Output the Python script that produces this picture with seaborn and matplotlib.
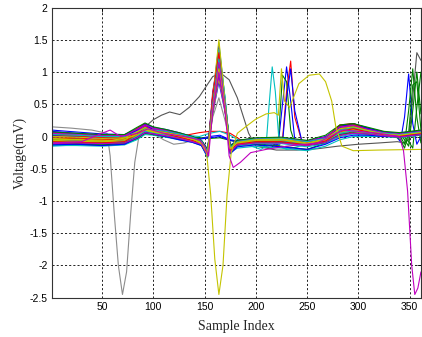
import pandas as pd
import matplotlib
matplotlib.use('Agg')
import matplotlib.pyplot as plt
import seaborn as sns

# MATLAB-style line colours
B, G, R, C, M, Y = '#0000ff', '#008000', '#ff0000', '#00bfbf', '#bf00bf', '#c4c400'
K_LIGHT, K_DARK = '#8c8c8c', '#555555'

# sample positions of the normal beats (R peak near sample 164)
x_normal = [1, 25, 50, 72, 84, 92, 100, 112, 125, 138, 147, 153, 158, 164,
            170, 175, 182, 200, 225, 250, 268, 282, 295, 310, 325, 340, 350, 361]

normal_beats = [
    [0.08, 0.05, 0.02, 0.02, 0.10, 0.17, 0.12, 0.10, 0.05, -0.02, -0.08, -0.25, 0.62, 1.35, 0.55, -0.18, -0.08, -0.04, -0.03, -0.08, -0.02, 0.08, 0.12, 0.08, 0.06, 0.04, 0.06, 0.08],
    [-0.10, -0.10, -0.12, -0.10, 0.00, 0.08, 0.05, 0.02, -0.03, -0.07, -0.12, -0.30, 0.45, 1.10, 0.48, -0.22, -0.14, -0.12, -0.15, -0.20, -0.10, 0.12, 0.16, 0.08, 0.02, 0.00, 0.02, 0.04],
    [-0.02, -0.04, -0.06, -0.04, 0.06, 0.18, 0.09, 0.06, 0.01, -0.05, -0.10, -0.27, 0.70, 1.20, 0.40, -0.20, -0.10, -0.06, -0.05, -0.10, -0.05, 0.15, 0.18, 0.08, 0.03, 0.01, 0.03, 0.05],
    [-0.15, -0.13, -0.14, -0.12, -0.04, 0.05, 0.03, 0.00, -0.04, -0.08, -0.13, -0.32, 0.50, 1.40, 0.60, -0.25, -0.18, -0.15, -0.18, -0.22, -0.15, -0.05, 0.00, 0.00, 0.00, -0.01, 0.01, 0.03],
    [0.05, 0.02, -0.01, 0.00, 0.08, 0.12, 0.11, 0.08, 0.03, -0.03, -0.09, -0.22, 0.40, 1.00, 0.50, -0.16, -0.07, -0.05, -0.04, -0.09, -0.03, 0.05, 0.08, 0.11, 0.05, 0.03, 0.05, 0.07],
    [-0.06, -0.07, -0.09, -0.07, 0.02, 0.10, 0.07, 0.03, -0.01, -0.06, -0.11, -0.29, 0.55, 1.25, 0.45, -0.21, -0.11, -0.07, -0.06, -0.12, -0.06, 0.07, 0.10, 0.07, 0.02, 0.00, 0.02, 0.05],
    [0.10, 0.07, 0.04, 0.03, 0.12, 0.20, 0.14, 0.11, 0.06, 0.00, -0.06, -0.20, 0.35, 0.85, 0.38, -0.14, -0.06, -0.03, -0.02, -0.07, 0.00, 0.12, 0.10, 0.12, 0.07, 0.05, 0.07, 0.09],
    [-0.12, -0.11, -0.10, -0.09, -0.01, 0.07, 0.04, 0.01, -0.03, -0.07, -0.12, -0.31, 0.58, 1.30, 0.52, -0.24, -0.13, -0.09, -0.08, -0.13, -0.09, 0.16, 0.20, 0.10, 0.01, -0.01, 0.01, 0.03],
    [0.00, -0.02, -0.05, -0.03, 0.12, 0.20, 0.08, 0.06, 0.02, -0.04, -0.10, -0.26, 0.45, 1.15, 0.45, -0.19, -0.09, -0.05, -0.05, -0.11, -0.04, 0.11, 0.13, 0.09, 0.04, 0.02, 0.04, 0.06],
    [-0.14, -0.14, -0.15, -0.13, -0.05, 0.03, 0.02, -0.01, -0.05, -0.09, -0.14, -0.33, 0.52, 1.45, 0.58, -0.26, -0.15, -0.11, -0.11, -0.16, -0.11, 0.00, 0.04, 0.02, 0.00, -0.02, 0.00, 0.02],
    [0.06, 0.03, 0.01, 0.01, 0.09, 0.16, 0.12, 0.09, 0.04, -0.02, -0.08, -0.24, 0.60, 1.25, 0.45, -0.17, -0.08, -0.04, -0.03, -0.08, -0.02, 0.13, 0.17, 0.10, 0.05, 0.03, 0.05, 0.07],
    [-0.08, -0.08, -0.08, -0.07, 0.01, 0.09, 0.06, 0.03, -0.02, -0.06, -0.11, -0.28, 0.35, 0.90, 0.40, -0.22, -0.11, -0.07, -0.07, -0.12, -0.07, 0.06, 0.09, 0.06, 0.02, 0.00, 0.02, 0.04],
    [0.02, 0.00, -0.03, -0.01, 0.10, 0.19, 0.10, 0.07, 0.02, -0.04, -0.09, -0.23, 0.65, 1.40, 0.50, -0.18, -0.09, -0.05, -0.04, -0.09, -0.03, 0.15, 0.20, 0.12, 0.05, 0.02, 0.04, 0.06],
    [-0.11, -0.12, -0.13, -0.11, -0.03, 0.05, 0.03, 0.00, -0.04, -0.08, -0.13, -0.30, 0.48, 1.20, 0.52, -0.24, -0.13, -0.09, -0.09, -0.14, -0.09, 0.03, 0.06, 0.04, 0.01, -0.01, 0.01, 0.03],
    [0.03, 0.01, -0.02, -0.02, 0.05, 0.12, 0.09, 0.07, 0.02, -0.04, -0.10, -0.27, 0.50, 1.10, 0.42, -0.20, -0.10, -0.05, -0.04, -0.10, -0.04, 0.18, 0.20, 0.09, 0.04, 0.02, 0.04, 0.06],
    [-0.09, -0.09, -0.11, -0.08, 0.00, 0.08, 0.05, 0.02, -0.02, -0.07, -0.12, -0.29, 0.55, 1.35, 0.60, -0.23, -0.12, -0.08, -0.07, -0.12, -0.07, 0.05, 0.09, 0.06, 0.02, 0.00, 0.02, 0.04],
    [0.06, 0.04, 0.02, 0.02, 0.11, 0.18, 0.13, 0.10, 0.05, -0.01, -0.07, -0.22, 0.40, 0.95, 0.42, -0.16, -0.07, -0.03, -0.02, -0.07, -0.01, 0.15, 0.17, 0.11, 0.06, 0.04, 0.06, 0.08],
    [-0.04, -0.05, -0.07, -0.05, 0.04, 0.12, 0.08, 0.05, 0.00, -0.05, -0.10, -0.26, 0.60, 1.50, 0.55, -0.20, -0.10, -0.06, -0.05, -0.11, -0.05, 0.09, 0.11, 0.08, 0.03, 0.01, 0.03, 0.05],
    [-0.13, -0.12, -0.14, -0.12, -0.02, 0.06, 0.04, 0.00, -0.05, -0.09, -0.14, -0.31, 0.40, 1.00, 0.45, -0.27, -0.16, -0.13, -0.16, -0.20, -0.12, -0.02, 0.02, 0.02, 0.00, 0.00, 0.02, 0.04],
    [0.07, 0.05, 0.03, 0.03, 0.14, 0.21, 0.15, 0.11, 0.06, 0.00, -0.06, -0.21, 0.50, 1.10, 0.48, -0.15, -0.06, -0.02, -0.01, -0.06, 0.02, 0.18, 0.20, 0.14, 0.08, 0.06, 0.08, 0.10],
    [-0.08, -0.09, -0.10, -0.08, 0.03, 0.14, 0.10, 0.04, -0.01, -0.06, -0.11, -0.28, 0.62, 1.30, 0.42, -0.22, -0.12, -0.08, -0.08, -0.13, -0.07, 0.08, 0.12, 0.07, 0.03, 0.01, 0.03, 0.05],
    [0.03, 0.02, 0.00, 0.00, 0.07, 0.13, 0.10, 0.08, 0.04, -0.01, -0.07, -0.23, 0.50, 1.20, 0.50, -0.17, -0.08, -0.04, -0.03, -0.08, -0.03, 0.10, 0.14, 0.09, 0.05, 0.03, 0.05, 0.07],
    [-0.11, -0.10, -0.11, -0.10, -0.02, 0.06, 0.04, 0.01, -0.03, -0.08, -0.12, -0.30, 0.45, 1.15, 0.50, -0.24, -0.13, -0.10, -0.10, -0.14, -0.09, 0.02, 0.05, 0.04, 0.01, -0.01, 0.01, 0.03],
    [0.00, -0.01, -0.03, -0.02, 0.07, 0.14, 0.09, 0.06, 0.02, -0.04, -0.09, -0.25, 0.42, 1.05, 0.45, -0.19, -0.09, -0.05, -0.04, -0.10, -0.04, 0.12, 0.15, 0.09, 0.04, 0.02, 0.04, 0.06],
]
normal_colors = [B, G, R, C, M, Y] * 4

# normal beats followed by an early next beat at the right edge
x_next = [1, 25, 50, 72, 84, 92, 100, 112, 125, 138, 147, 153, 158, 164, 170, 175,
          182, 200, 225, 250, 268, 282, 295, 310, 325, 336, 341, 345, 349, 353, 357, 361]
next_beats = [
    [-0.06, -0.07, -0.08, -0.06, 0.03, 0.11, 0.07, 0.04, -0.01, -0.06, -0.11, -0.28, 0.50, 1.15, 0.50, -0.21, -0.11, -0.07, -0.06, -0.11, -0.06, 0.08, 0.10, 0.07, 0.03, 0.02, -0.08, 0.30, 0.97, 0.20, -0.12, 0.00],
    [0.02, 0.00, -0.02, -0.01, 0.08, 0.15, 0.10, 0.07, 0.03, -0.03, -0.09, -0.24, 0.55, 1.25, 0.50, -0.17, -0.09, -0.05, -0.04, -0.09, -0.02, 0.14, 0.18, 0.12, 0.06, 0.03, 0.00, -0.12, 0.40, 1.05, 0.30, -0.10],
    [-0.07, -0.08, -0.10, -0.07, 0.02, 0.10, 0.06, 0.03, -0.02, -0.06, -0.12, -0.30, 0.45, 1.05, 0.45, -0.22, -0.12, -0.08, -0.07, -0.12, -0.07, 0.10, 0.15, 0.10, 0.04, 0.01, 0.02, -0.05, -0.15, 0.40, 1.00, 0.35],
    [0.04, 0.02, 0.00, 0.00, 0.09, 0.17, 0.12, 0.08, 0.03, -0.03, -0.08, -0.23, 0.60, 1.30, 0.55, -0.17, -0.08, -0.04, -0.03, -0.08, -0.01, 0.17, 0.20, 0.13, 0.07, 0.04, 0.03, 0.00, -0.08, -0.18, 0.45, 1.00],
    [-0.03, -0.04, -0.06, -0.04, 0.06, 0.14, 0.09, 0.05, 0.00, -0.05, -0.10, -0.27, 0.50, 1.18, 0.50, -0.20, -0.10, -0.06, -0.05, -0.10, -0.04, 0.12, 0.16, 0.10, 0.04, 0.00, -0.05, -0.18, 0.05, 0.80, 0.85, 0.10],
]
next_colors = [B, G, G, G, G]

# beats whose R peak sits near sample 230
x_late = [1, 30, 60, 80, 92, 105, 125, 145, 155, 165, 175, 185, 200,
          215, 222, 226, 230, 234, 238, 245, 262, 280, 295, 315, 340, 361]
late_beats = [
    [-0.06, -0.08, -0.08, -0.03, 0.10, 0.06, 0.02, -0.03, 0.00, 0.02, -0.05, -0.08, -0.08, -0.12, -0.10, 0.50, 1.08, 0.55, -0.05, -0.10, -0.12, 0.02, 0.10, 0.06, 0.03, 0.05],
    [-0.10, -0.12, -0.10, -0.05, 0.05, 0.04, 0.00, 0.06, 0.08, 0.08, 0.05, -0.05, -0.07, -0.10, -0.15, -0.05, 0.70, 1.17, 0.30, -0.08, -0.10, 0.00, 0.08, 0.05, 0.02, 0.04],
    [-0.04, -0.05, -0.06, 0.00, 0.12, 0.08, 0.03, -0.02, -0.03, -0.02, -0.06, -0.10, -0.12, -0.18, -0.05, 0.95, 0.85, 0.10, -0.10, -0.12, -0.08, 0.08, 0.15, 0.08, 0.04, 0.06],
    [-0.08, -0.09, -0.10, -0.06, 0.06, 0.03, 0.00, -0.04, -0.02, 0.00, -0.06, -0.09, -0.10, -0.14, -0.12, -0.10, 0.60, 1.05, 0.40, -0.08, -0.12, 0.05, 0.12, 0.07, 0.03, 0.04],
]
late_colors = [B, R, G, B]

x_cyan = [1, 30, 60, 80, 92, 105, 125, 145, 155, 165, 175, 190, 205,
          210, 213, 216, 219, 223, 230, 250, 270, 285, 300, 320, 340, 361]
y_cyan = [-0.02, -0.04, -0.05, 0.00, 0.10, 0.07, 0.03, 0.00, 0.05, 0.08, 0.02, -0.12, -0.20,
          -0.15, 0.50, 1.08, 0.70, -0.15, -0.20, -0.12, -0.08, 0.05, 0.12, 0.08, 0.04, 0.05]

x_gray_dip = [1, 20, 40, 55, 58, 62, 66, 70, 74, 78, 82, 86, 92, 100, 110, 120,
              130, 140, 148, 153, 158, 164, 170, 176, 185, 200, 230, 260, 290, 320, 345, 361]
y_gray_dip = [0.15, 0.13, 0.10, 0.05, -0.30, -1.20, -2.00, -2.45, -2.10, -1.20, -0.40, 0.00,
              0.15, 0.05, -0.05, -0.12, -0.10, -0.05, -0.08, -0.20, 0.30, 0.60, 0.25, -0.15,
              -0.08, -0.05, -0.05, -0.10, 0.05, 0.02, 0.00, 0.02]

x_gray_hump = [1, 30, 60, 80, 90, 100, 108, 116, 126, 135, 145, 158, 166, 174, 182, 188,
               193, 200, 220, 240, 260, 280, 300, 320, 338, 345, 349, 353, 357, 361]
y_gray_hump = [-0.05, -0.06, -0.05, 0.00, 0.12, 0.26, 0.33, 0.38, 0.34, 0.45, 0.62, 0.93,
               0.98, 0.88, 0.60, 0.30, 0.05, -0.15, -0.21, -0.21, -0.19, -0.15, -0.12,
               -0.10, -0.08, -0.10, -0.05, 0.60, 1.30, 1.18]

x_yellow = [1, 30, 60, 80, 92, 105, 125, 140, 148, 152, 156, 160, 164, 168, 172, 176,
            182, 190, 200, 210, 218, 222, 225, 228, 233, 242, 252, 262, 268, 274, 278,
            284, 295, 320, 361]
y_yellow = [-0.03, -0.05, -0.06, 0.00, 0.10, 0.06, 0.02, -0.05, -0.12, -0.25, -0.90, -1.90,
            -2.45, -2.00, -0.90, -0.25, 0.05, 0.15, 0.27, 0.35, 0.37, 0.33, 1.05, 0.55,
            0.45, 0.82, 0.95, 0.97, 0.85, 0.55, 0.15, -0.15, -0.22, -0.21, -0.20]

x_magenta = [1, 30, 50, 58, 68, 85, 95, 110, 130, 145, 150, 154, 158, 164, 170, 174, 178,
             185, 195, 210, 230, 260, 285, 300, 320, 340, 344, 348, 352, 355, 358, 361]
y_magenta = [-0.10, -0.08, 0.05, 0.10, 0.00, 0.05, 0.12, 0.05, 0.00, -0.05, -0.15, -0.30,
             0.40, 1.00, 0.40, -0.30, -0.48, -0.40, -0.25, -0.20, -0.15, -0.10, 0.10, 0.08,
             0.05, 0.00, -0.22, -0.85, -2.00, -2.45, -2.35, -2.10]

# long-form table, one trace id per beat
rows = []
colors = {}
def add(name, xs, ys, col):
    for a, b in zip(xs, ys):
        rows.append((name, a, b))
    colors[name] = col

add('gray_dip', x_gray_dip, y_gray_dip, K_LIGHT)
add('gray_hump', x_gray_hump, y_gray_hump, K_DARK)
for i, ys in enumerate(late_beats):
    add(f'late{i}', x_late, ys, late_colors[i])
add('cyan', x_cyan, y_cyan, C)
for i, ys in enumerate(next_beats):
    add(f'next{i}', x_next, ys, next_colors[i])
for i, ys in enumerate(normal_beats):
    add(f'normal{i}', x_normal, ys, normal_colors[i])
add('yellow', x_yellow, y_yellow, Y)
add('magenta', x_magenta, y_magenta, M)
df = pd.DataFrame(rows, columns=['trace', 'sample', 'voltage'])

sns.set_style('white')
plt.rcParams['font.family'] = ['Liberation Sans', 'DejaVu Sans']
plt.rcParams['axes.unicode_minus'] = False

fig = plt.figure(figsize=(4.22, 3.37), dpi=100)
ax = fig.add_axes([0.1225, 0.1166, 0.875, 0.861])

sns.lineplot(data=df, x='sample', y='voltage', hue='trace', units='trace',
             estimator=None, sort=False, palette=colors, legend=False,
             linewidth=0.8, ax=ax)

ax.set_xlim(1, 361)
ax.set_ylim(-2.5, 2)
ax.set_xticks([50, 100, 150, 200, 250, 300, 350])
ax.set_yticks([-2.5, -2, -1.5, -1, -0.5, 0, 0.5, 1, 1.5, 2])
ax.set_yticklabels(['-2.5', '-2', '-1.5', '-1', '-0.5', '0', '0.5', '1', '1.5', '2'])
ax.set_axisbelow(True)
ax.grid(True, color='black', linestyle=(0, (2.5, 2.5)), linewidth=0.6)
ax.tick_params(direction='in', length=3, width=0.6, labelsize=7.5, pad=3,
               top=True, right=True, colors='black')
for sp in ax.spines.values():
    sp.set_color('#333333')
    sp.set_linewidth(0.8)

ax.set_xlabel('Sample Index', family='Liberation Serif', fontsize=10, labelpad=6)
ax.set_ylabel('Voltage(mV)', family='Liberation Serif', fontsize=10, labelpad=2)

fig.savefig('out.png', dpi=100)
